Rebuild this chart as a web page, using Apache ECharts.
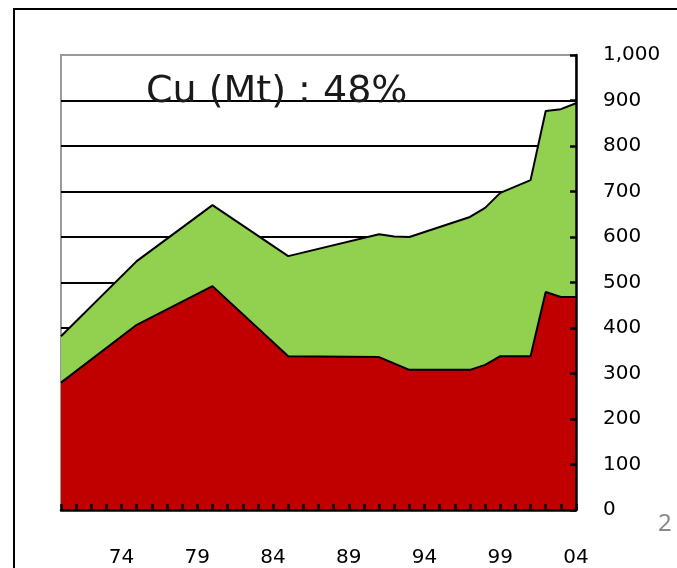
<!DOCTYPE html>
<html>
<head>
<meta charset="utf-8">
<script src="https://cdn.jsdelivr.net/npm/echarts@6/dist/echarts.min.js"></script>
<style>
  html, body { margin: 0; padding: 0; background: #fff; }
  #chart { width: 677px; height: 568px; }
</style>
</head>
<body>
<div id="chart"></div>
<script>
// years 1970..2004, values only where the outline has a vertex
const years = []
for (let y = 1970; y <= 2004; y++) years.push(String(y))

const redPoints = { 1970: 280, 1975: 407, 1980: 492, 1985: 338, 1991: 336, 1993: 308,
  1997: 308, 1998: 319, 1999: 338, 2001: 338, 2002: 479, 2003: 468, 2004: 468 }
const totalPoints = { 1970: 382, 1975: 547, 1980: 670, 1985: 558, 1991: 606, 1992: 601, 1993: 600,
  1997: 644, 1998: 664, 1999: 697, 2001: 725, 2002: 877, 2003: 881, 2004: 894 }

const redValues = years.map(y => redPoints[y] ?? null)
const totalValues = years.map(y => totalPoints[y] ?? null)

const yTicks = [0, 100, 200, 300, 400, 500, 600, 700, 800, 900, 1000]

const chart = echarts.init(document.getElementById('chart'))
const font = '"DejaVu Sans", sans-serif'

chart.setOption({
  animation: false,
  grid: { left: 61, right: 101, top: 55, bottom: 58, show: true, borderColor: '#9a9a9a', borderWidth: 2 },
  graphic: [
    { type: 'rect', shape: { x: 14, y: 9, width: 720, height: 620 }, style: { fill: 'none', stroke: '#000', lineWidth: 2 }, z: 100 },
    { type: 'text', left: 146, top: 73, z: 1,
      style: { text: 'Cu (Mt) : 48%', font: '38px "DejaVu Sans", sans-serif', fill: '#1a1a1a' } },
    { type: 'text', left: 658, top: 512, z: 100,
      style: { text: '2', font: '24px "Noto Sans", sans-serif', fill: '#8a8a8a' } }
  ],
  xAxis: {
    type: 'category', data: years, boundaryGap: false, z: 10,
    axisLine: { lineStyle: { color: '#000', width: 2.5 } },
    axisTick: { inside: true, length: 6, interval: 0, lineStyle: { color: '#000', width: 2.5 } },
    axisLabel: {
      interval: (i) => i % 5 === 4,
      formatter: v => v.slice(2),
      margin: 38, fontSize: 20, color: '#000', fontFamily: font
    },
    splitLine: { show: false }
  },
  yAxis: [
    {
      // gridlines only, kept behind the areas
      type: 'value', position: 'right', min: 0, max: 1000, interval: 100, z: 0,
      axisLine: { show: false }, axisTick: { show: false }, axisLabel: { show: false },
      splitLine: {
        show: true,
        lineStyle: { width: 2, color: yTicks.map(v => (v === 1000 ? '#9a9a9a' : '#000')) }
      }
    },
    {
      // axis line, ticks and labels drawn over the areas
      type: 'value', position: 'right', min: 0, max: 1000, interval: 100, z: 10,
      axisLine: { show: true, lineStyle: { color: '#000', width: 2.5 } },
      axisTick: { show: true, inside: true, length: 6, lineStyle: { color: '#000', width: 2.5 } },
      axisLabel: {
        margin: 27, fontSize: 20, color: '#000', fontFamily: font,
        formatter: v => v.toLocaleString('en-US')
      },
      splitLine: { show: false }
    }
  ],
  series: [
    {
      name: 'total', type: 'line', data: totalValues, connectNulls: true, yAxisIndex: 0,
      showSymbol: false, symbol: 'none',
      lineStyle: { color: '#000', width: 2 },
      areaStyle: { color: '#92D050', opacity: 1 }
    },
    {
      name: 'red', type: 'line', data: redValues, connectNulls: true, yAxisIndex: 0,
      showSymbol: false, symbol: 'none',
      lineStyle: { color: '#000', width: 2 },
      areaStyle: { color: '#C00000', opacity: 1 }
    }
  ]
})
</script>
</body>
</html>
